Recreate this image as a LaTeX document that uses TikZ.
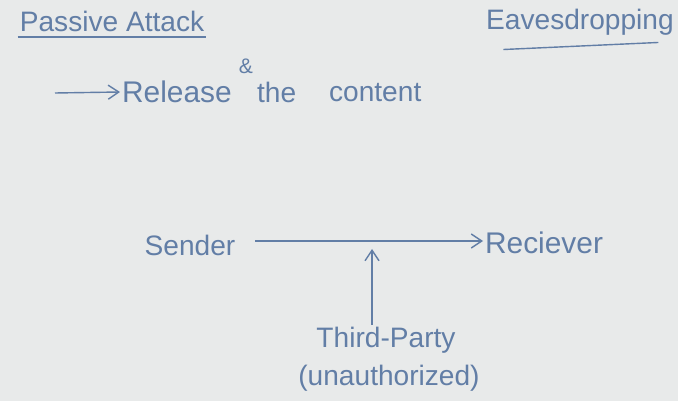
\documentclass[tikz,border=0pt]{standalone}
\usepackage{fontspec}
\setmainfont{Liberation Sans}
\usetikzlibrary{arrows.meta}
\definecolor{board}{RGB}{232,234,234}
\definecolor{ink}{RGB}{98,126,166}
\tikzset{
  word/.style = {text=ink, inner sep=1pt, font=\fontsize{16}{18}\selectfont},
  ink line/.style = {draw=ink, line width=0.8pt},
  ink arrow/.style = {ink line, -{Straight Barb[length=6pt,width=8pt]}}
}

\begin{document}
\begin{tikzpicture}[x=0.02cm, y=-0.02cm]
                    \fill[board] (0,0) rectangle (678,401);
                    \useasboundingbox (0,0) rectangle (678,401);
                    % headings
                    \node[word] (pa) at (112,21) {Passive Attack};
                    \node[word] (ea) at (580,22) {Eavesdropping};
                    \draw[ink line] ([yshift=-2pt]pa.south west) -- ([yshift=-2pt]pa.south east);
                    \draw[ink line] ([xshift=11pt,yshift=-7pt]ea.south west) -- ([xshift=-10pt,yshift=-3pt]ea.south east);
                    % release of the content
                    \coordinate (r0) at (55,93);
                    \node[word,anchor=west,font=\fontsize{17}{19}\selectfont] (rel) at (120,92) {Release};
                    \node[word,anchor=west] (the) at (255,92) {the};
                    \node[word,anchor=west] (con) at (327,93) {content};
                    \node[word,font=\fontsize{12}{14}\selectfont] (amp) at (246,66) {\&};
                    \draw[ink arrow] (r0) -- (rel.west);
                    % sender to reciever
                    \node[word] (snd) at (190,245) {Sender};
                    \node[word,anchor=west,font=\fontsize{17}{19}\selectfont] (rcv) at (483,243) {Reciever};
                    \node[word] (tp) at (386,340) {Third-Party};
                    \node[word] (un) at (389,378) {(unauthorized)};
                    \draw[ink arrow] (snd.east) ++(18,-4) coordinate (s0) -- (rcv.west |- s0);
                    \draw[ink arrow] (tp.north -| 372,0) -- (372,249);
                \end{tikzpicture}
\end{document}
